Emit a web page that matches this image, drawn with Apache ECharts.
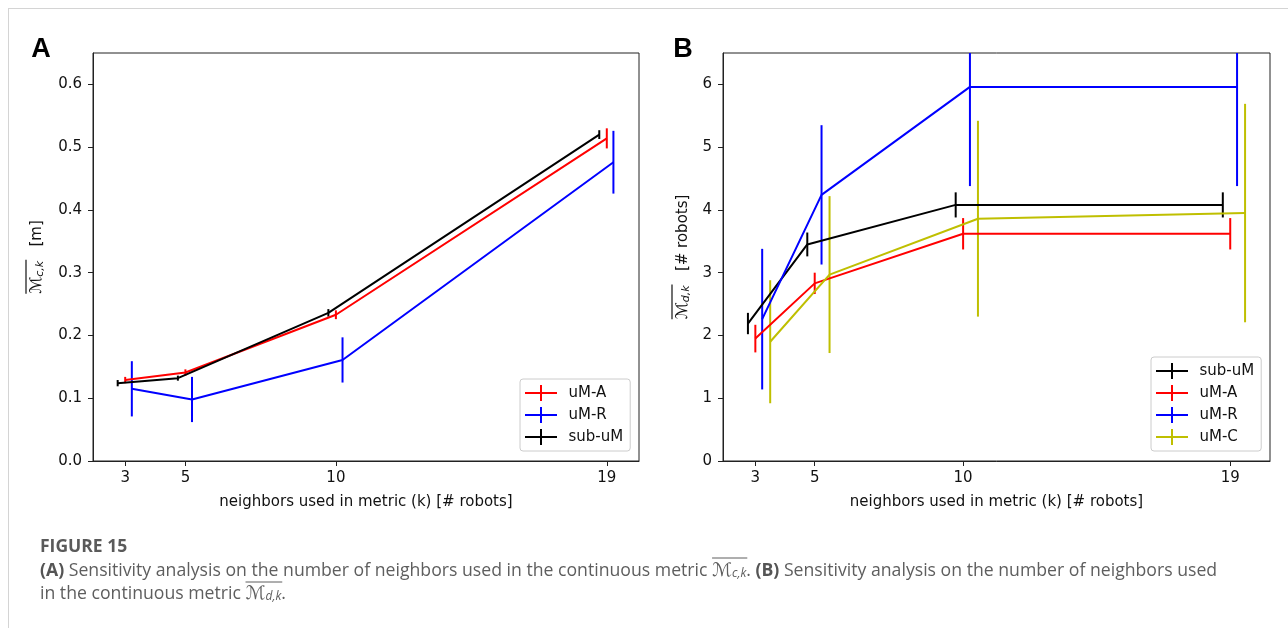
<!DOCTYPE html>
<html>
<head>
<meta charset="utf-8">
<script src="https://cdn.jsdelivr.net/npm/echarts@6/dist/echarts.min.js"></script>
<style>
html,body{margin:0;padding:0;background:#fff;}
#chart{width:1288px;height:628px;}
</style>
</head>
<body>
<div id="chart"></div>
<script>
// ---------------- DATA ----------------
const kTicks = [3, 5, 10, 19];
const yTicksA = [0, 0.1, 0.2, 0.3, 0.4, 0.5, 0.6];
const yTicksB = [0, 1, 2, 3, 4, 5, 6];
const legendA = ['uM-A', 'uM-R', 'sub-uM'];
const legendB = ['sub-uM', 'uM-A', 'uM-R', 'uM-C'];

// Panel A (continuous metric, [m])
const A_uMA_k = [3, 5, 10, 19];
const A_uMA_mean = [0.129, 0.141, 0.233, 0.514];
const A_uMA_err = [0.005, 0.005, 0.007, 0.016];
const A_uMR_k = [3.22, 5.22, 10.22, 19.22];
const A_uMR_mean = [0.115, 0.098, 0.161, 0.476];
const A_uMR_err = [0.044, 0.036, 0.036, 0.050];
const A_sub_k = [2.75, 4.75, 9.75, 18.75];
const A_sub_mean = [0.124, 0.132, 0.236, 0.520];
const A_sub_err = [0.005, 0.004, 0.006, 0.007];

// Panel B (discrete metric, [# robots])
const B_sub_k = [2.75, 4.75, 9.75, 18.75];
const B_sub_mean = [2.19, 3.45, 4.08, 4.08];
const B_sub_err = [0.17, 0.19, 0.20, 0.20];
const B_uMA_k = [3, 5, 10, 19];
const B_uMA_mean = [1.95, 2.83, 3.62, 3.62];
const B_uMA_err = [0.22, 0.17, 0.25, 0.25];
const B_uMR_k = [3.23, 5.23, 10.23, 19.23];
const B_uMR_mean = [2.26, 4.24, 5.96, 5.96];
const B_uMR_err = [1.12, 1.11, 1.58, 1.58];
const B_uMC_k = [3.5, 5.5, 10.5, 19.5];
const B_uMC_mean = [1.90, 2.97, 3.86, 3.95];
const B_uMC_err = [0.98, 1.25, 1.56, 1.74];

// ---------------- STYLE / LAYOUT ----------------
const C = { 'uM-A': '#ff0000', 'uM-R': '#0000ff', 'sub-uM': '#000000', 'uM-C': '#bfbf00' };
const TICK_FONT = 'DejaVu Sans';
const AX = '#222';
const FS = 15;

const mctx = document.createElement('canvas').getContext('2d');
function measure(t, font) { mctx.font = font; return mctx.measureText(t).width; }

function runs(x0, y, list) {
  let x = x0;
  const els = [];
  let overStart = null;
  for (const r of list) {
    const w = measure(r.t, r.font);
    if (r.overStart) overStart = x;
    els.push({ type: 'text', x: x, y: y + (r.dy || 0),
      style: { text: r.t, font: r.font, fill: r.color, align: 'left', verticalAlign: 'middle',
               textAlign: 'left', textVerticalAlign: 'middle' } });
    x += w;
    if (r.overEnd && overStart !== null) {
      els.push({ type: 'line', shape: { x1: overStart, y1: y + r.overY, x2: x + 1, y2: y + r.overY },
        style: { stroke: r.color, lineWidth: r.overW || 1 } });
      overStart = null;
    }
  }
  return { els, width: x - x0 };
}

function axisLabelGroup(cx, cy, sub, unit) {
  const fM = '16px "DejaVu Sans"';
  const fS = 'italic 11px "DejaVu Sans"';
  const fU = FS + 'px "DejaVu Sans"';
  const list = [
    { t: '\u2133', font: fM, color: '#111', overStart: true },
    { t: sub, font: fS, color: '#111', dy: 3, overEnd: true, overY: -11, overW: 1.2 },
    { t: '   ' + unit, font: fU, color: '#111' }
  ];
  const m = runs(0, 0, list);
  m.els.forEach(e => { if (e.type === 'text') e.x -= m.width / 2; else { e.shape.x1 -= m.width / 2; e.shape.x2 -= m.width / 2; } });
  return { type: 'group', x: cx, y: cy, rotation: Math.PI / 2, children: m.els };
}

const capColor = '#5e5e5e';
const capFamily = '"Open Sans","DejaVu Sans"';
function capRuns(fs) {
  const n = fs + 'px ' + capFamily, b = 'bold ' + fs + 'px ' + capFamily;
  const mi = 'italic ' + (fs + 1) + 'px "DejaVu Sans"', si = 'italic ' + Math.round(fs * 0.7) + 'px ' + capFamily;
  const line1 = [
    { t: '(A)', font: b, color: '#555' },
    { t: ' Sensitivity analysis on the number of neighbors used in the continuous metric ', font: n, color: capColor },
    { t: '\u2133', font: mi, color: capColor, overStart: true },
    { t: 'c,k', font: si, color: capColor, dy: 3, overEnd: true, overY: -13 },
    { t: '. ', font: n, color: capColor },
    { t: '(B)', font: b, color: '#555' },
    { t: ' Sensitivity analysis on the number of neighbors used', font: n, color: capColor }
  ];
  const line2 = [
    { t: 'in the continuous metric ', font: n, color: capColor },
    { t: '\u2133', font: mi, color: capColor, overStart: true },
    { t: 'd,k', font: si, color: capColor, dy: 3, overEnd: true, overY: -12 },
    { t: '.', font: n, color: capColor }
  ];
  return { line1, line2 };
}
let capFs = 17;
{
  const w = runs(0, 0, capRuns(17).line1).width;
  capFs = Math.max(14, Math.min(19, 17 * 1178 / w));
}
const cr = capRuns(capFs);
const cap1 = runs(40, 571, cr.line1).els;
const cap2 = runs(40, 594, cr.line2).els;

// ---------------- SERIES ----------------
const series = [];
function addSeries(name, ks, means, errs, gi) {
  const color = C[name];
  series.push({
    type: 'line', name, xAxisIndex: gi, yAxisIndex: gi,
    data: ks.map((k, i) => [k, means[i]]),
    symbol: 'none', showSymbol: false, silent: true,
    lineStyle: { color, width: 2 }, itemStyle: { color }, z: 3
  });
  series.push({
    type: 'custom', name, xAxisIndex: gi, yAxisIndex: gi, clip: true, silent: true,
    data: ks.map((k, i) => [k, means[i] - errs[i], means[i] + errs[i]]),
    encode: { x: 0, y: [1, 2] },
    itemStyle: { color },
    renderItem: function (params, api) {
      const p1 = api.coord([api.value(0), api.value(1)]);
      const p2 = api.coord([api.value(0), api.value(2)]);
      return { type: 'line', shape: { x1: p1[0], y1: p1[1], x2: p2[0], y2: p2[1] },
               style: { stroke: color, lineWidth: 2 } };
    }, z: 3
  });
}
addSeries('uM-A', A_uMA_k, A_uMA_mean, A_uMA_err, 0);
addSeries('uM-R', A_uMR_k, A_uMR_mean, A_uMR_err, 0);
addSeries('sub-uM', A_sub_k, A_sub_mean, A_sub_err, 0);
addSeries('sub-uM', B_sub_k, B_sub_mean, B_sub_err, 1);
addSeries('uM-A', B_uMA_k, B_uMA_mean, B_uMA_err, 1);
addSeries('uM-R', B_uMR_k, B_uMR_mean, B_uMR_err, 1);
addSeries('uM-C', B_uMC_k, B_uMC_mean, B_uMC_err, 1);

// ---------------- AXES ----------------
function xAxis(gi, min, max) {
  return {
    type: 'value', gridIndex: gi, min, max,
    axisLine: { show: true, onZero: false, lineStyle: { color: AX, width: 1 } },
    axisTick: { show: true, length: 5, customValues: kTicks, lineStyle: { color: AX } },
    axisLabel: { customValues: kTicks, fontSize: FS, color: '#111', fontFamily: TICK_FONT, margin: 10 },
    splitLine: { show: false },
    name: 'neighbors used in metric (k) [# robots]', nameLocation: 'middle', nameGap: 34,
    nameTextStyle: { fontSize: FS, color: '#111', fontFamily: TICK_FONT }
  };
}
function yAxis(gi, max, ticks, fmt) {
  return {
    type: 'value', gridIndex: gi, min: 0, max,
    axisLine: { show: true, lineStyle: { color: AX, width: 1 } },
    axisTick: { show: true, length: 5, customValues: ticks, lineStyle: { color: AX } },
    axisLabel: { customValues: ticks, formatter: fmt, fontSize: FS, color: '#111', fontFamily: TICK_FONT, margin: 11 },
    splitLine: { show: false }
  };
}

const legendIcon = 'path://M0,7 L32,7 L32,9 L0,9 Z M15,0 L17,0 L17,16 L15,16 Z';
function legend(data, left, top) {
  return {
    data, left, top, orient: 'vertical', icon: legendIcon, itemWidth: 33, itemHeight: 16, itemGap: 6,
    padding: [6, 7, 6, 5], backgroundColor: 'rgba(255,255,255,0.85)', borderColor: '#cccccc',
    borderWidth: 1, borderRadius: 3, selectedMode: false,
    textStyle: { fontSize: FS, color: '#111', fontFamily: TICK_FONT, padding: [0, 0, 0, 6] }
  };
}

const option = {
  backgroundColor: '#ffffff',
  animation: false,
  grid: [
    { left: 93, top: 53, width: 546, height: 408, show: true, borderColor: AX, borderWidth: 1, backgroundColor: 'transparent' },
    { left: 723, top: 53, width: 547, height: 408, show: true, borderColor: AX, borderWidth: 1, backgroundColor: 'transparent' }
  ],
  xAxis: [xAxis(0, 1.93, 20.07), xAxis(1, 1.91, 20.34)],
  yAxis: [yAxis(0, 0.65, yTicksA, v => v.toFixed(1)), yAxis(1, 6.5, yTicksB, v => String(v))],
  legend: [legend(legendA, 520, 379), legend(legendB, 1151, 357)],
  series,
  graphic: [
    { type: 'line', shape: { x1: 8.5, y1: 8, x2: 8.5, y2: 628 }, style: { stroke: '#d4d4d4', lineWidth: 1 }, silent: true },
    { type: 'line', shape: { x1: 8, y1: 8.5, x2: 1288, y2: 8.5 }, style: { stroke: '#d4d4d4', lineWidth: 1 }, silent: true },
    { type: 'text', x: 41, y: 50, style: { text: 'A', font: 'bold 27px "Liberation Sans"', fill: '#000', align: 'center', verticalAlign: 'middle', textAlign: 'center', textVerticalAlign: 'middle' } },
    { type: 'text', x: 683, y: 50, style: { text: 'B', font: 'bold 27px "Liberation Sans"', fill: '#000', align: 'center', verticalAlign: 'middle', textAlign: 'center', textVerticalAlign: 'middle' } },
    axisLabelGroup(37, 257, 'c,k', '[m]'),
    axisLabelGroup(683, 257, 'd,k', '[# robots]'),
    { type: 'text', x: 40, y: 547, style: { text: 'FIGURE 15', font: 'bold 17.5px ' + capFamily, fill: '#5a5a5a', align: 'left', verticalAlign: 'middle', textAlign: 'left', textVerticalAlign: 'middle' } },
    { type: 'group', children: cap1.concat(cap2) }
  ]
};

const chart = echarts.init(document.getElementById('chart'), null, { renderer: 'canvas' });
chart.setOption(option);
</script>
</body>
</html>
